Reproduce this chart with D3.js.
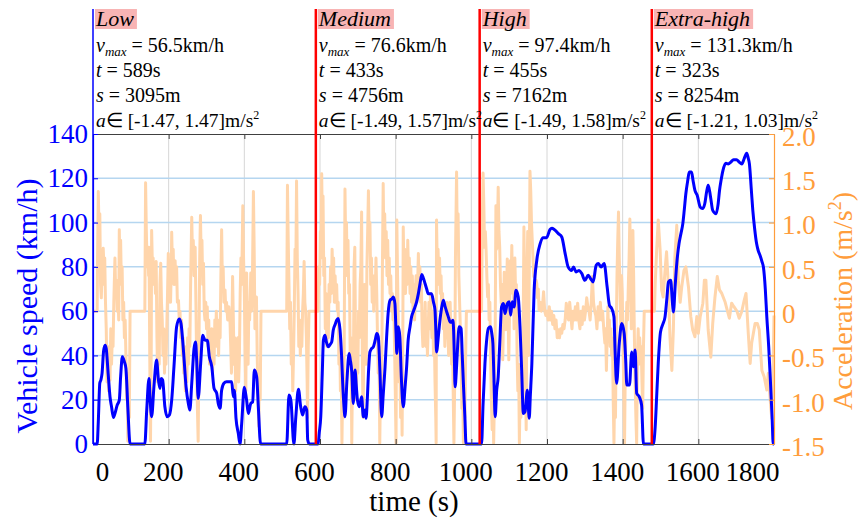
<!DOCTYPE html>
<html>
<head>
<meta charset="utf-8">
<script src="https://cdn.jsdelivr.net/npm/d3@7"></script>
</head>
<body style="margin:0;background:#fff">
<svg id="chart" width="861" height="518" style="display:block"></svg>
<script>
// WLTC phases
const phaseNames = ["Low", "Medium", "High", "Extra-high"];
const phaseStart = [0, 589, 1022, 1477];
const phaseVmax = ["56.5", "76.6", "97.4", "131.3"];
const phaseDuration = ["589", "433", "455", "323"];
const phaseDistance = ["3095", "4756", "7162", "8254"];
const phaseAccMin = ["-1.47", "-1.49", "-1.49", "-1.21"];
const phaseAccMax = ["1.47", "1.57", "1.58", "1.03"];

// axis ticks
const timeTicks = [0, 200, 400, 600, 800, 1000, 1200, 1400, 1600, 1800];
const speedTicks = [0, 20, 40, 60, 80, 100, 120, 140];
const accTicks = [-1.5, -1.0, -0.5, 0, 0.5, 1.0, 1.5, 2.0];
const accTickLabels = ["-1.5", "-1.0", "-0.5", "0", "0.5", "1.0", "1.5", "2.0"];

// vehicle speed [time s, km/h]
const speedLow = [[0,0],[11,0],[14,10],[18,27.5],[21,29],[24,32],[28,42],[32,44.6],[35,43],[40,31.9],[45,21.3],[49,16.8],[54,12],[58,13.8],[64,17.6],[69.5,19.8],[73,30.3],[77.5,39.4],[83,37.1],[87,34.1],[92,16.8],[98,0],[137,0],[142,15.3],[148,29.6],[151,20],[155,12.3],[161,25.8],[168,37.9],[173,28.9],[177,25.1],[180,29.6],[184,28.9],[190,16.8],[196,12.3],[202,13.1],[208,19.8],[214,34.9],[221,52.9],[228,56.5],[232.6,54.4],[239,42.4],[246,25.8],[252,18.3],[256,15.3],[261,27.4],[267,43.1],[271,46.1],[274,37.9],[278,20.6],[284.6,36.4],[290,49.1],[296,46.9],[302,46.9],[307.5,39.4],[314,34.9],[320,25.1],[327,22.9],[331,18.3],[336,16.1],[340,24.3],[346,27.4],[353,28.1],[366.6,28.1],[371,21.3],[373.6,24.3],[378,11.6],[384,4.8],[388.6,0],[393,9.3],[400,25.6],[406,19.8],[410.5,13.8],[417,18.3],[422,19],[426.5,33.4],[432.7,30.3],[437,16.8],[443,0],[512,0],[518,22.1],[523,19.8],[531,0],[536,12],[543,24.7],[549,16.8],[554,13.1],[560,16.8],[565,15.3],[567.5,1.8],[572,0],[589,0]];
const speedMedium = [[589,0],[595,0],[598,5],[602,12.3],[606,32],[609,46.9],[613,49.1],[617,46],[622,43.9],[627,45],[631,46.1],[635,51.4],[640,54],[644,55.9],[648,56.7],[653,51.4],[657,40],[660,27.4],[663,18],[666,12.3],[671,28],[677,40.9],[680,38],[684,32.6],[688,18.3],[692.5,33.4],[696,26],[699,19.8],[704,16.8],[710,21.3],[714.5,12.3],[719,15.3],[721.6,11.6],[725,20],[728,31.9],[732,41.6],[736,43],[741,43.9],[746,47],[750,49.9],[754,48.4],[758.6,31.9],[763,12.3],[767,22],[772,34.9],[776,48],[780,58.9],[785,64.9],[790,65.5],[794,66.4],[798,63.4],[801,50],[803,40.9],[807,52.9],[811,48.4],[815,30],[820,16.8],[825,26],[829,34.9],[833,46.9],[838,53],[842,57.4],[847,60],[851,61.9],[855,64],[860,67.9],[864,72],[869,76.6],[873,75],[877.6,72.5],[882,70],[886,67.9],[895,67.9],[900,64],[904,60.4],[906,52],[908,41.6],[913,49],[917,55.9],[921,61],[926,64.9],[930,62.5],[935,59.6],[940,57],[943.6,55.1],[948,55],[951,55.9],[953,52],[955,40],[957,25.8],[961,34.9],[964,45],[968,52.9],[973,52.2],[976,40],[979,27.4],[983,12],[986,0],[1022,0]];
const speedHigh = [[1022,0],[1027,0],[1031,18],[1036,36.4],[1040,46],[1045,52.2],[1051,52.9],[1054,50],[1057,45.4],[1060,28],[1063,12.3],[1067,24.3],[1071,30.3],[1075,45],[1080,61.9],[1085,63.4],[1089,58.9],[1095,63.4],[1100,64.2],[1104,58.2],[1108,64.2],[1113,61.9],[1118,69.4],[1124,66.4],[1129,51.4],[1133,33.4],[1137.5,13.8],[1142,14.6],[1148,24.3],[1153,11.6],[1156,22],[1160,36.4],[1166,69.4],[1173,83],[1182,90.5],[1189,93.2],[1199,93.2],[1208,96.9],[1213,97.4],[1219,96.9],[1230,95],[1239,93.5],[1248,86],[1256,79.9],[1265,78.4],[1270,79.9],[1277,77.7],[1285,78.4],[1292,77],[1300,73.9],[1309,76.2],[1315,74.7],[1322,73.2],[1330,80.7],[1336,81.5],[1343,79.9],[1351,81.5],[1359,70.9],[1365,62.7],[1371,61.2],[1377,57.4],[1380,42],[1384,27.4],[1391,45.4],[1397.6,54.4],[1404,49.9],[1408,38],[1411,26.6],[1418,26.6],[1424,41.6],[1428,34.9],[1433,42.4],[1437,22.9],[1444,21.3],[1450,17.6],[1455,0],[1477,0]];
const speedExtraHigh = [[1477,0],[1481,0],[1486,7.8],[1490,22],[1494,36.4],[1500,50.6],[1506,54],[1512,57.4],[1517,66],[1521,73.2],[1527,73.9],[1531,65],[1534,59.6],[1539,72],[1543,81.5],[1549,90.5],[1554,95],[1559,99.5],[1563,106],[1567,113],[1572,119],[1576,122.8],[1582,122.8],[1586,119],[1591,114.5],[1597,112.3],[1605,107],[1611,106.3],[1617,108.5],[1622,114],[1626,116.8],[1630,114],[1633,110.8],[1638,105.5],[1647,104],[1652,108],[1656,114.5],[1660,119],[1665,123.5],[1673,126.8],[1679,126.5],[1686,127.3],[1693,128.4],[1701,128.4],[1708,127.3],[1715,126.5],[1721,128.8],[1728,131.3],[1732,129],[1735,126.5],[1740,115],[1744,105.5],[1749,97],[1754,90.5],[1758,87.5],[1763,85.2],[1768,82.5],[1772,79.9],[1777,70],[1781,57.4],[1786,44],[1790,30.3],[1795,12],[1798,0],[1800,0]];

// acceleration [time s, m/s^2]
const accelLow = [[0,0],[11,0],[12,0.6],[14,1.35],[16,0.9],[18,1.1],[20,0.3],[22,0.15],[24,0.5],[26,0.3],[27,0.71],[29,0.5],[31,0.6],[33,0.1],[35,-0.2],[37,-0.8],[39,-0.4],[41,-0.9],[43,-0.6],[45,-0.78],[47,-0.2],[49,-0.6],[51,-0.3],[53,-0.4],[55,0.1],[58,0.6],[60,0.2],[62,0.35],[64,0.0],[66,0.2],[68,-0.1],[69.5,0.92],[71,0.5],[73,0.8],[75,0.3],[77,0.5],[79,-0.1],[81,0.1],[83,-0.3],[85,-0.1],[87,-0.5],[89,-1.0],[91,-0.7],[92,-1.47],[94,-0.8],[96,-1.2],[98,0],[137,0],[139,1.45],[141,0.9],[143,0.5],[145,0.72],[147,0.4],[148,0.72],[150,-0.5],[152,-1.47],[154,-0.4],[155,0.91],[157,0.5],[159,0.6],[161,0.3],[163,0.55],[165,0.2],[167,0.56],[169,-0.3],[171,-0.8],[173,-0.4],[175,-0.6],[177,0.3],[179,0.54],[181,0.1],[183,-0.1],[185,-0.5],[187,-0.2],[189,-0.7],[191,-0.3],[193,-0.6],[195,-0.2],[197,0.2],[199,0.65],[201,0.1],[203,0.3],[205,0.1],[207,0.5],[208,0.89],[210,0.5],[212,0.7],[214,0.3],[217,0.57],[219,0.3],[221,0.5],[223,0.1],[226,0.12],[228,-0.1],[230,0.0],[232,-0.3],[234,-0.1],[236,-0.5],[238,-0.3],[240,-0.7],[242,-0.4],[244,-0.9],[246,-0.5],[248,-0.8],[250,-0.3],[252,-0.6],[254,-0.2],[256,-0.4],[258,0.3],[261,1.06],[263,0.6],[265,0.8],[267,0.4],[270,0.72],[272,0.1],[274,-0.6],[276,-1.1],[278,-1.47],[280,-0.5],[282,0.6],[284,1.08],[286,0.6],[288,0.8],[290,0.3],[292,0.54],[294,0.0],[296,-0.1],[298,0.1],[300,-0.2],[302,0.05],[304,-0.4],[306,-0.1],[308,-0.6],[310,-0.3],[312,-0.5],[314,-0.2],[316,-0.7],[318,-0.4],[320,-0.6],[322,-0.1],[324,-0.3],[326,0.0],[328,-0.4],[330,-0.2],[332,-0.5],[334,-0.1],[336,-0.3],[338,0.4],[340,0.92],[342,0.3],[344,0.5],[346,0.1],[349,0.24],[351,0.0],[353,0.1],[356,-0.1],[359,0.05],[362,-0.1],[364,-0.4],[366,-0.7],[368,0.1],[369,0.39],[371,-0.1],[373,-0.6],[375,-0.3],[377,-0.9],[379,-0.4],[381,-0.7],[383,-0.3],[385,-0.8],[387,-0.5],[389,0.2],[391,0.6],[393,0.3],[396,1.19],[398,0.6],[400,0.2],[402,-0.5],[404,-0.9],[406,0.43],[408,-0.3],[410,-0.6],[412,0.1],[414,-0.1],[417,0.43],[419,0.0],[421,0.2],[422,0.6],[424,1.35],[426,0.7],[428,-0.2],[430,0.0],[432,0.16],[434,-0.5],[436,-0.9],[438,-1.3],[440,-0.7],[442,-1.0],[444,0],[512,0],[514,1.42],[516,0.8],[518,0.3],[520,-0.2],[522,0.1],[524,-0.6],[526,-0.3],[528,-0.9],[530,-0.5],[532,0.0],[534,0.7],[536,0.4],[538,1.47],[540,0.6],[542,0.2],[544,-0.4],[546,-0.1],[548,-0.5],[550,-0.2],[552,-0.4],[554,0.0],[556,0.2],[558,0.56],[560,0.1],[562,0.0],[564,-0.3],[566,-0.8],[567,-1.2],[569,-0.4],[571,0],[589,0]];
const accelMedium = [[589,0],[595,0],[597,0.5],[599,0.3],[601,0.9],[603,0.6],[604.5,1.55],[606,1.0],[608,1.3],[610,0.4],[612,0.6],[614,-0.2],[616,0.2],[618,-0.4],[620,0.0],[622,-0.3],[624,0.3],[626,0.1],[628,0.5],[630,0.2],[632,0.7],[634,0.39],[636,0.6],[638,0.1],[640,0.4],[642,0.1],[644,0.3],[646,0.0],[648,0.1],[650,-0.6],[652,-0.3],[654,-0.9],[656,-0.6],[658,-1.49],[660,-0.8],[662,-1.2],[664,-0.4],[666,1.38],[668,0.7],[670,1.0],[672,0.4],[674,0.8],[676,0.2],[678,0.3],[680,-0.6],[682,-0.3],[684,-1.49],[686,-0.6],[688,-0.9],[690,0.5],[692,0.72],[694,-0.4],[696,-1.0],[698,-0.4],[700,-0.7],[702,0.0],[704,-0.3],[706,0.3],[708,0.5],[710,1.12],[712,-0.6],[714,-1.2],[716,-0.3],[718,0.3],[720,-0.2],[722,-0.6],[724,0.5],[726,0.9],[728,1.36],[730,0.8],[732,1.0],[734,0.3],[736,0.6],[738,0.1],[740,0.4],[742,0.0],[744,0.4],[746,0.2],[748,0.6],[750,0.2],[752,-0.3],[754,-0.7],[756,-0.4],[758,-1.49],[760,-0.8],[762,-1.2],[764,-0.2],[765,0.5],[767,1.44],[769,0.7],[771,1.1],[773,0.6],[775,0.9],[777,0.4],[779,0.8],[781,0.3],[783,0.6],[785,0.2],[787,0.4],[789,0.0],[791,0.2],[793,-0.1],[795,0.1],[797,-0.4],[799,-0.9],[801,-1.49],[803,1.03],[805,0.4],[807,-0.2],[809,-0.8],[811,-0.4],[813,-1.2],[815,-0.6],[817,-1.4],[819,-0.2],[820,0.95],[822,0.4],[824,0.7],[826,0.2],[828,0.6],[830,0.3],[832,0.8],[834,0.4],[836,0.6],[838,0.2],[840,0.5],[842,0.1],[844,0.4],[846,0.0],[848,0.3],[850,-0.1],[852,0.2],[854,0.4],[856,0.1],[858,0.3],[860,0.65],[862,0.2],[864,0.5],[866,0.1],[868,0.3],[870,-0.2],[872,-0.4],[874,0.0],[876,-0.3],[878,0.1],[880,-0.4],[882,-0.1],[884,-0.5],[886,-0.2],[888,0.1],[890,-0.2],[892,0.2],[894,-0.1],[896,-0.3],[898,0.0],[900,-0.5],[902,-0.2],[904,-0.8],[906,-1.2],[907,-1.49],[908,1.03],[910,0.5],[912,0.7],[914,0.3],[916,0.6],[918,0.2],[920,0.4],[922,0.0],[924,0.2],[926,-0.2],[928,0.0],[930,-0.4],[932,-0.1],[934,-0.3],[936,0.1],[938,-0.2],[940,-0.5],[942,-0.1],[944,0.1],[946,-0.3],[948,-0.6],[950,-0.2],[952,-0.9],[954,-1.49],[956,-0.8],[958,0.6],[961,1.57],[963,0.7],[965,1.1],[967,0.4],[969,0.1],[971,-0.2],[973,-0.6],[975,-1.1],[977,-0.7],[979,-1.49],[981,-0.9],[983,-1.2],[985,-0.5],[987,0],[1022,0]];
const accelHigh = [[1022,0],[1027,0],[1029,1.0],[1031,1.56],[1033,1.2],[1035,0.72],[1037,0.9],[1039,0.69],[1041,0.4],[1043,0.16],[1045,0.3],[1047,-0.1],[1049,0.1],[1051,-0.59],[1053,-1.0],[1055,-1.34],[1057,-0.8],[1059,-1.49],[1061,-1.0],[1063,-0.3],[1065,1.19],[1067,0.7],[1069,0.9],[1071,1.4],[1073,0.9],[1075,0.72],[1077,0.3],[1079,0.09],[1081,0.3],[1083,-0.55],[1085,-0.1],[1087,0.44],[1089,0.0],[1091,-0.21],[1093,0.2],[1095,0.59],[1097,0.1],[1099,-0.55],[1101,0.0],[1103,0.57],[1105,0.3],[1107,0.74],[1109,0.2],[1111,0.4],[1113,-0.2],[1115,0.6],[1117,0.2],[1119,0.3],[1121,-0.5],[1123,-0.9],[1125,-0.6],[1127,-1.49],[1129,-0.9],[1131,-1.2],[1133,-0.7],[1135,-1.1],[1137,-0.2],[1139,0.95],[1141,0.3],[1143,-0.6],[1145,-1.34],[1147,0.3],[1149,0.9],[1151,-0.5],[1153,0.4],[1155,1.58],[1157,1.36],[1159,1.0],[1161,0.8],[1163,0.6],[1165,0.39],[1167,0.5],[1169,0.27],[1171,0.35],[1173,0.31],[1175,0.15],[1177,0.25],[1179,0.01],[1182,0.1],[1185,0.0],[1188,0.05],[1191,0.22],[1194,0.0],[1197,-0.05],[1200,0.0],[1203,-0.1],[1206,0.05],[1209,-0.1],[1212,0.0],[1215,-0.15],[1218,-0.05],[1221,-0.2],[1224,-0.1],[1227,-0.3],[1230,-0.21],[1233,-0.3],[1236,-0.2],[1239,-0.25],[1242,-0.15],[1245,-0.2],[1248,-0.1],[1251,0.09],[1254,-0.05],[1257,-0.1],[1260,0.1],[1263,-0.05],[1266,-0.2],[1269,0.0],[1272,-0.1],[1275,0.05],[1278,-0.1],[1281,0.09],[1284,-0.1],[1287,-0.2],[1290,0.0],[1293,-0.15],[1296,0.05],[1299,-0.1],[1302,0.0],[1305,0.15],[1308,0.05],[1311,0.0],[1314,-0.1],[1317,0.1],[1320,0.39],[1323,0.1],[1326,0.0],[1329,-0.05],[1332,-0.2],[1335,0.05],[1338,-0.1],[1341,0.1],[1344,-0.1],[1347,0.0],[1350,-0.2],[1353,-0.36],[1355,-0.2],[1357,-0.67],[1359,-0.3],[1361,0.05],[1363,-0.3],[1365,-0.1],[1367,-0.4],[1369,-0.2],[1371,-0.5],[1373,-0.3],[1375,-1.0],[1377,-1.49],[1379,-0.8],[1381,-1.2],[1383,-0.3],[1385,0.4],[1387,0.8],[1389,1.12],[1391,0.6],[1393,0.3],[1395,-0.2],[1397,0.4],[1399,0.2],[1401,-0.4],[1403,-0.9],[1405,-1.49],[1407,-0.6],[1409,-0.2],[1411,0.1],[1413,-0.1],[1415,0.3],[1417,0.6],[1419,1.04],[1421,0.5],[1423,-0.2],[1425,0.3],[1427,0.91],[1429,0.4],[1431,-0.3],[1433,-0.8],[1435,-1.2],[1437,-1.49],[1439,-0.5],[1441,-0.2],[1443,-0.6],[1445,-0.3],[1447,-0.5],[1449,-0.4],[1451,-0.8],[1453,-1.1],[1455,-0.4],[1457,0],[1477,0]];
const accelExtraHigh = [[1477,0],[1484,0],[1486,0.31],[1490,0.7],[1494,1.03],[1499,0.69],[1503,0.24],[1507,0.16],[1512,0.46],[1516,0.67],[1521,0.27],[1525,-0.29],[1530,-0.67],[1534,-0.21],[1538,0.61],[1543,0.97],[1547,0.35],[1552,0.1],[1556,0.27],[1562,0.46],[1567,0.5],[1574,0.27],[1580,-0.06],[1585,-0.21],[1591,-0.29],[1596,-0.06],[1600,-0.25],[1605,-0.06],[1612,0.09],[1616,0.35],[1620,0.35],[1626,-0.21],[1633,-0.52],[1638,-0.14],[1644,0.16],[1650,0.39],[1656,0.24],[1662,0.2],[1671,0.1],[1677,0],[1682,-0.08],[1688,0.09],[1694,0.05],[1702,0],[1708,-0.08],[1715,0],[1721,0.12],[1726,0.2],[1732,-0.25],[1737,-0.59],[1741,-0.36],[1750,-0.14],[1756,-0.14],[1761,-0.21],[1768,-0.67],[1774,-0.74],[1781,-0.89],[1785,-0.7],[1790,-1.0],[1794,-1.21],[1797,-0.8],[1800,-0.05]];

const speedData = [].concat(speedLow, speedMedium.slice(1), speedHigh.slice(1), speedExtraHigh.slice(1));
const accelData = [].concat(accelLow, accelMedium.slice(1), accelHigh.slice(1), accelExtraHigh.slice(1));

const SERIF = "Liberation Serif";
const svg = d3.select("#chart");
const box = { left: 93, right: 774, top: 134, bottom: 444 };
const blue = "#0000ff", orange = "#ff9d3c", peach = "#ffd5ab", red = "#ff0000";

// every text node gets the serif face through its own style
function serif(sel) { return sel.style("font-family", SERIF); }

const x = d3.scaleLinear().domain([0, 1800]).range([box.left, box.right]);
const yV = d3.scaleLinear().domain([0, 140]).range([box.bottom, box.top]);
const yA = d3.scaleLinear().domain([-1.5, 2.0]).range([box.bottom, box.top]);

// grid
svg.append("g").selectAll("line").data(timeTicks.slice(1, -1)).join("line")
  .attr("x1", d => x(d)).attr("x2", d => x(d))
  .attr("y1", box.top).attr("y2", box.bottom)
  .attr("stroke", "#d6d6d6").attr("stroke-width", 1);
svg.append("g").selectAll("line").data(speedTicks.slice(1, -1)).join("line")
  .attr("x1", box.left).attr("x2", box.right)
  .attr("y1", d => yV(d)).attr("y2", d => yV(d))
  .attr("stroke", "#b5d6f0").attr("stroke-width", 1.5);

// acceleration trace
svg.append("path").datum(accelData)
  .attr("fill", "none").attr("stroke", peach).attr("stroke-width", 3)
  .attr("stroke-linejoin", "round")
  .attr("d", d3.line().x(d => x(d[0])).y(d => yA(d[1])));

// speed trace
svg.append("path").datum(speedData)
  .attr("fill", "none").attr("stroke", blue).attr("stroke-width", 3)
  .attr("stroke-linejoin", "round")
  .attr("d", d3.line().curve(d3.curveMonotoneX).x(d => x(d[0])).y(d => yV(d[1])));

// axes
const fontSize = 27;
function styleTickText(g, color) {
  serif(g.selectAll(".tick text")).attr("font-size", fontSize).attr("fill", color);
}
const gBottom = svg.append("g").attr("transform", `translate(0,${box.bottom})`)
  .call(d3.axisBottom(x).tickValues(timeTicks).tickFormat(d3.format("d"))
    .tickSizeInner(-5).tickSizeOuter(0).tickPadding(18));
gBottom.select(".domain").attr("stroke", "#404040");
gBottom.selectAll(".tick line").attr("stroke", "#404040");
styleTickText(gBottom, "#000");
gBottom.selectAll(".tick text")
  .attr("dx", (d, i) => i === 0 ? 9 : (i === timeTicks.length - 1 ? -22 : -6));

const gTop = svg.append("g").attr("transform", `translate(0,${box.top})`)
  .call(d3.axisTop(x).tickValues(timeTicks.slice(1, -1)).tickSizeInner(-5).tickSizeOuter(0).tickFormat(""));
gTop.select(".domain").attr("stroke", "#404040");
gTop.selectAll(".tick line").attr("stroke", "#404040");

const gLeft = svg.append("g").attr("transform", `translate(${box.left},0)`)
  .call(d3.axisLeft(yV).tickValues(speedTicks).tickSizeInner(-5).tickSizeOuter(0).tickPadding(5));
gLeft.select(".domain").attr("stroke", blue).attr("stroke-width", 1.2);
gLeft.selectAll(".tick line").attr("stroke", blue);
styleTickText(gLeft, blue);

const gRight = svg.append("g").attr("transform", `translate(${box.right},0)`)
  .call(d3.axisRight(yA).tickValues(accTicks).tickSizeInner(-5).tickSizeOuter(0).tickPadding(8)
    .tickFormat((d, i) => accTickLabels[i]));
gRight.select(".domain").attr("stroke", orange).attr("stroke-width", 1.2);
gRight.selectAll(".tick line").attr("stroke", orange);
styleTickText(gRight, orange);
gRight.selectAll(".tick text").attr("dy", "0.42em");

// phase boundaries
svg.append("g").selectAll("line").data(phaseStart).join("line")
  .attr("x1", d => x(d)).attr("x2", d => x(d))
  .attr("y1", 9).attr("y2", box.bottom)
  .attr("stroke", (d, i) => i === 0 ? blue : red)
  .attr("stroke-width", (d, i) => i === 0 ? 1.5 : 2.5);

// phase summaries
phaseNames.forEach((name, i) => {
  const tx = x(phaseStart[i]) + 3;
  const g = svg.append("g").attr("font-size", 20).attr("fill", "#000");
  const head = serif(g.append("text")).attr("x", tx).attr("y", 26)
    .attr("font-size", 22).attr("font-style", "italic").text(name);
  const w = head.node().getComputedTextLength();
  g.insert("rect", "text").attr("x", tx - 1).attr("y", 9)
    .attr("width", w + 4).attr("height", 20).attr("fill", "#f8b4b4");

  const l1 = serif(g.append("text")).attr("x", tx).attr("y", 52);
  l1.append("tspan").attr("font-style", "italic").text("v");
  l1.append("tspan").attr("font-style", "italic").attr("font-size", 13).attr("dy", 4).text("max");
  l1.append("tspan").attr("dy", -4).text("\u00a0=\u00a0" + phaseVmax[i] + "km/h");

  const l2 = serif(g.append("text")).attr("x", tx).attr("y", 77);
  l2.append("tspan").attr("font-style", "italic").text("t");
  l2.append("tspan").text("\u00a0=\u00a0" + phaseDuration[i] + "s");

  const l3 = serif(g.append("text")).attr("x", tx).attr("y", 102);
  l3.append("tspan").attr("font-style", "italic").text("s");
  l3.append("tspan").text("\u00a0=\u00a0" + phaseDistance[i] + "m");

  const l4 = serif(g.append("text")).attr("x", tx).attr("y", 127).attr("font-size", 19.5);
  l4.append("tspan").attr("font-style", "italic").text("a");
  l4.append("tspan").text("\u2208\u00a0[" + phaseAccMin[i] + ", " + phaseAccMax[i] + "]m/s");
  l4.append("tspan").attr("font-size", 12).attr("dy", -8).text("2");
});

// axis titles
serif(svg.append("text")).attr("transform", "translate(37,306) rotate(-90)")
  .attr("text-anchor", "middle").attr("font-size", 30).attr("fill", blue)
  .text("Vehicle speed (km/h)");

const accTitle = serif(svg.append("text")).attr("transform", "translate(852,301) rotate(-90)")
  .attr("text-anchor", "middle").attr("font-size", 28).attr("fill", orange);
accTitle.append("tspan").text("Acceleration (m/s");
accTitle.append("tspan").attr("font-size", 18).attr("dy", -11).text("2");
accTitle.append("tspan").attr("dy", 11).text(")");

serif(svg.append("text")).attr("x", 414).attr("y", 511)
  .attr("text-anchor", "middle").attr("font-size", 29).attr("fill", "#000")
  .text("time (s)");
</script>
</body>
</html>
